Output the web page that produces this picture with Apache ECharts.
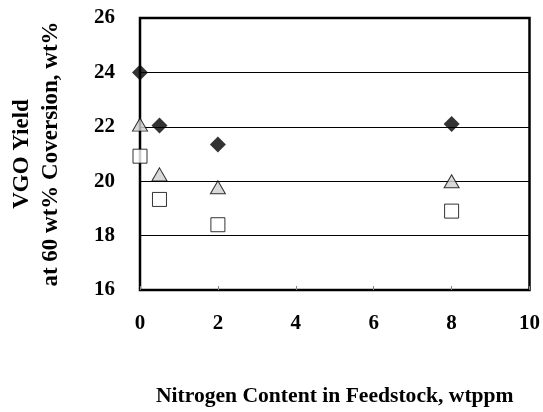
<!DOCTYPE html>
<html>
<head>
<meta charset="utf-8">
<script src="https://cdn.jsdelivr.net/npm/echarts@6/dist/echarts.min.js"></script>
<style>html,body{margin:0;padding:0;background:#fff}#c{width:543px;height:412px}</style>
</head>
<body>
<div id="c"></div>
<script>
const xDiamond = [0, 0.5, 2, 8];
const yDiamond = [24.0, 22.05, 21.35, 22.1];
const xTriangle = [0, 0.5, 2, 8];
const yTriangle = [22.08, 20.25, 19.78, 20.0];
const xSquare = [0, 0.5, 2, 8];
const ySquare = [20.92, 19.33, 18.4, 18.9];
const xTicks = [0, 2, 4, 6, 8, 10];
const yTicks = [16, 18, 20, 22, 24, 26];

const pairs = (xs, ys) => xs.map((x, i) => [x, ys[i]]);
const font = '"Liberation Serif", "Times New Roman", serif';

const chart = echarts.init(document.getElementById('c'), null, {renderer: 'canvas'});
chart.setOption({
  animation: false,
  backgroundColor: '#fff',
  grid: {
    left: 138, right: 13, top: 18, bottom: 119,
    show: true, borderColor: '#000', borderWidth: 2.5, backgroundColor: 'transparent'
  },
  xAxis: {
    type: 'value',
    min: xTicks[0], max: xTicks[xTicks.length - 1], interval: 2,
    name: 'Nitrogen Content in Feedstock, wtppm',
    nameLocation: 'middle', nameGap: 95,
    nameTextStyle: {fontFamily: font, fontWeight: 'bold', fontSize: 21.6, color: '#000'},
    axisLine: {show: false},
    axisTick: {show: true, inside: true, length: 4, lineStyle: {color: '#888', width: 1}},
    axisLabel: {fontFamily: font, fontWeight: 'bold', fontSize: 21, color: '#000', margin: 23},
    splitLine: {show: false}
  },
  yAxis: {
    type: 'value',
    min: yTicks[0], max: yTicks[yTicks.length - 1], interval: 2,
    name: 'VGO Yield\nat 60 wt% Coversion, wt%',
    nameLocation: 'middle', nameGap: 74,
    nameTextStyle: {fontFamily: font, fontWeight: 'bold', fontSize: 23, lineHeight: 29, color: '#000'},
    axisLine: {show: false},
    axisTick: {show: false},
    axisLabel: {fontFamily: font, fontWeight: 'bold', fontSize: 21, color: '#000', margin: 25},
    splitLine: {show: true, lineStyle: {color: '#000', width: 1}}
  },
  series: [
    {
      type: 'scatter', name: 'diamond', clip: false,
      symbol: 'diamond', symbolSize: [16, 16],
      itemStyle: {color: '#000', borderColor: '#000', borderWidth: 0},
      data: pairs(xDiamond, yDiamond), z: 3
    },
    {
      type: 'scatter', name: 'triangle', clip: false,
      symbol: 'triangle', symbolSize: [15, 13],
      itemStyle: {color: '#d0d0d0', borderColor: '#000', borderWidth: 1},
      data: pairs(xTriangle, yTriangle), z: 3
    },
    {
      type: 'scatter', name: 'square', clip: false,
      symbol: 'rect', symbolSize: [14, 14],
      itemStyle: {color: '#fff', borderColor: '#000', borderWidth: 1},
      data: pairs(xSquare, ySquare), z: 3
    }
  ]
});
</script>
</body>
</html>
